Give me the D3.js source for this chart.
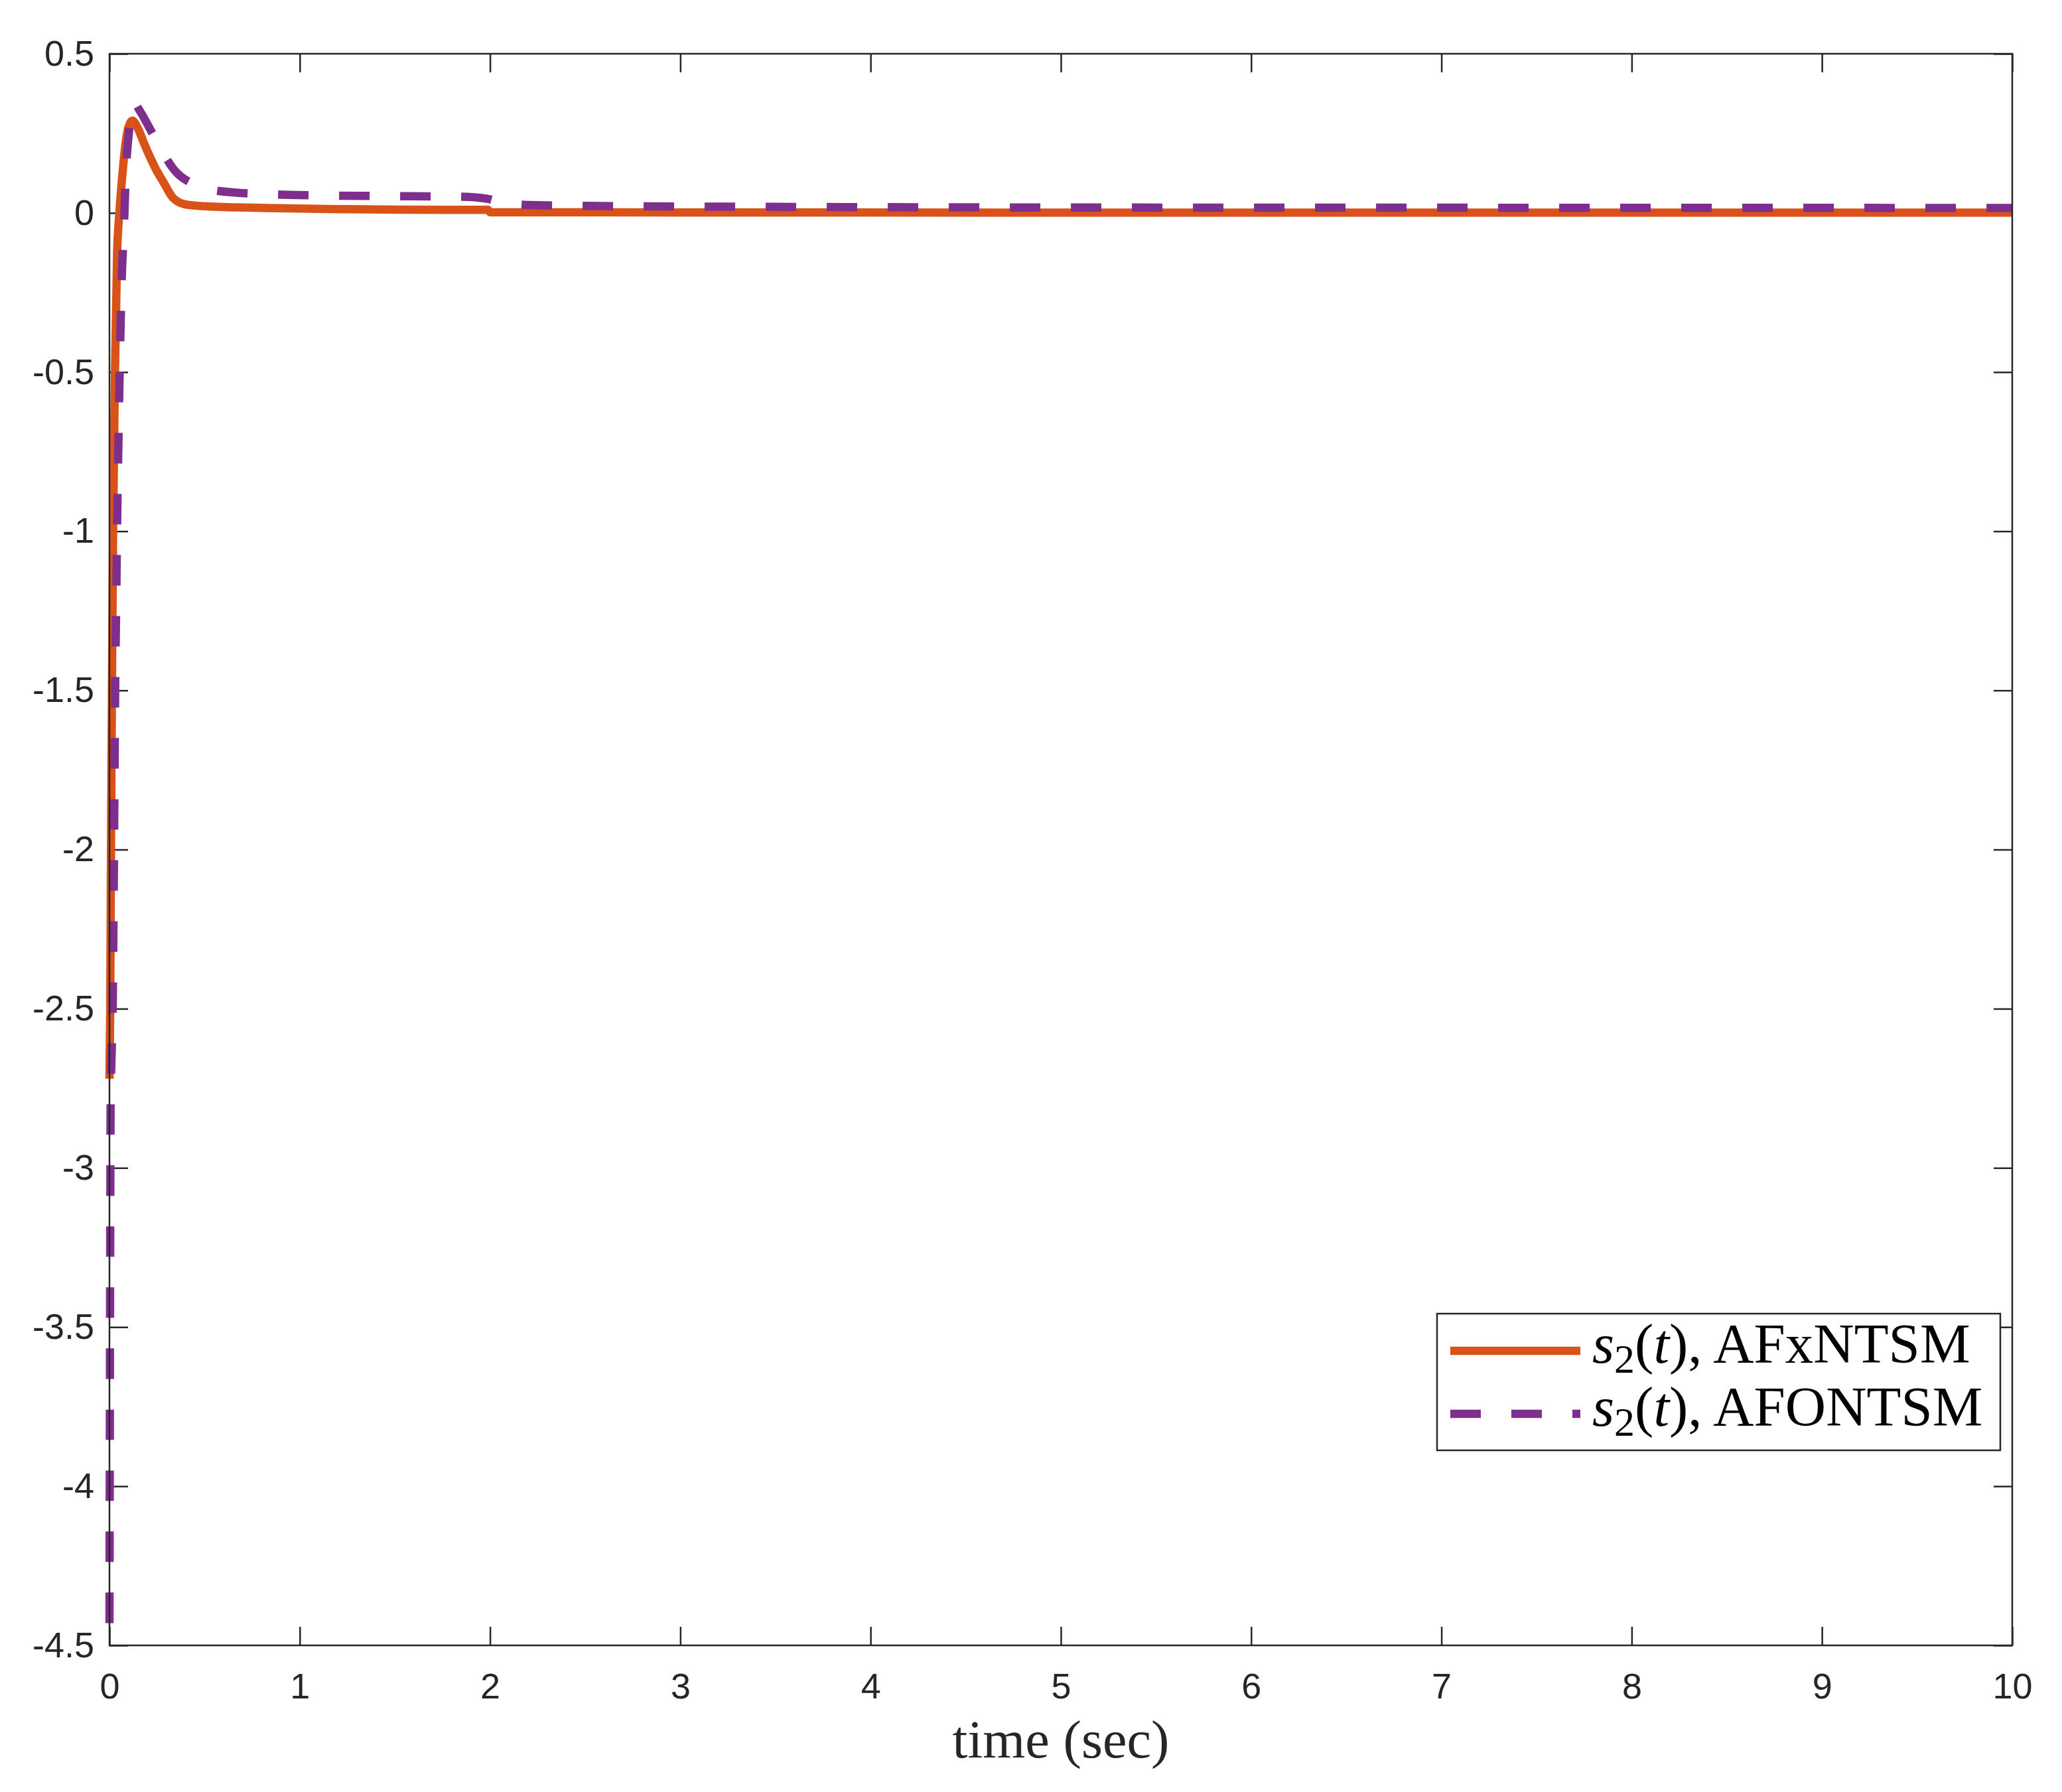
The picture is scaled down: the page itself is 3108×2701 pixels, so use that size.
<!DOCTYPE html>
<html>
<head>
<meta charset="utf-8">
<script src="https://cdn.jsdelivr.net/npm/d3@7"></script>
<style>
    body { margin: 0; background: #fff; }
</style>
</head>
<body>
<svg id="chart"></svg>
<script>
// s2(t) for AFxNTSM (solid orange)
let afxTime = [0, 0.004, 0.008, 0.013, 0.019, 0.029, 0.04, 0.052, 0.066, 0.083, 0.1, 0.12, 0.15, 0.182, 0.24, 0.287, 0.333, 0.36, 0.391, 0.45, 0.53, 0.82, 1.2, 1.52, 1.99, 2.0, 3, 5, 10];
let afxValue = [-2.72, -2.5, -2.0, -1.5, -1.0, -0.5, -0.13, 0.0, 0.107, 0.211, 0.27, 0.29, 0.265, 0.218, 0.142, 0.093, 0.048, 0.035, 0.028, 0.023, 0.020, 0.0156, 0.012, 0.010, 0.0095, 0.002, 0.0015, 0.001, 0.001];
// s2(t) for AFONTSM (dashed purple)
let afoTime = [0, 0.002, 0.004, 0.006, 0.011, 0.017, 0.024, 0.03, 0.036, 0.04, 0.045, 0.05, 0.056, 0.063, 0.075, 0.087, 0.1, 0.112, 0.13, 0.16, 0.223, 0.345, 0.45, 0.571, 0.82, 1.1, 1.43, 1.85, 1.98, 2.05, 2.2, 2.5, 3.5, 5, 8, 10];
let afoValue = [-4.43, -3.8, -3.2, -2.8, -2.65, -2.5, -2.0, -1.5, -1.2, -0.99, -0.8, -0.615, -0.43, -0.236, -0.06, 0.135, 0.24, 0.3, 0.345, 0.32, 0.253, 0.132, 0.088, 0.069, 0.059, 0.055, 0.053, 0.051, 0.045, 0.035, 0.025, 0.022, 0.019, 0.017, 0.016, 0.0155];

let xTicks = [0, 1, 2, 3, 4, 5, 6, 7, 8, 9, 10];
let yTicks = [0.5, 0, -0.5, -1, -1.5, -2, -2.5, -3, -3.5, -4, -4.5];
let seriesNames = ['AFxNTSM', 'AFONTSM'];
let xLabel = 'time (sec)';

let width = 3108;
let height = 2701;
let margin = {top: 81, left: 165, right: 75, bot: 221};
let config = {
    width: width - margin.left - margin.right,
    height: height - margin.top - margin.bot,
    margin: margin
};
let axisColor = '#262626';
let colors = ['#D95319', '#7E2F8E'];
let tickLen = 28;

let svg = d3.select('#chart')
    .attr('width', width)
    .attr('height', height);
svg.append('rect')
    .attr('width', width)
    .attr('height', height)
    .attr('fill', '#fff');

let plot = svg.append('g')
    .attr('transform', `translate(${margin.left},${margin.top})`);

let xScale = d3.scaleLinear()
    .domain([0, 10])
    .range([0, config.width]);
let yScale = d3.scaleLinear()
    .domain([-4.5, 0.5])
    .range([config.height, 0]);

function styleAxis(g) {
    g.select('.domain').remove();
    g.selectAll('.tick line')
        .attr('stroke', axisColor)
        .attr('stroke-width', 2.5);
    g.selectAll('.tick text')
        .attr('fill', axisColor)
        .style('font-family', '"Liberation Sans", Arial, Helvetica, sans-serif')
        .style('font-size', '54px');
}

let fmt = d => String(d);

plot.append('g')
    .attr('transform', `translate(0,${config.height})`)
    .call(d3.axisBottom(xScale).tickValues(xTicks).tickFormat(fmt)
        .tickSizeInner(-tickLen).tickSizeOuter(0).tickPadding(42))
    .call(styleAxis);
plot.append('g')
    .call(d3.axisTop(xScale).tickValues(xTicks).tickFormat('')
        .tickSizeInner(-tickLen).tickSizeOuter(0))
    .call(styleAxis);
plot.append('g')
    .call(d3.axisLeft(yScale).tickValues(yTicks).tickFormat(fmt)
        .tickSizeInner(-tickLen).tickSizeOuter(0).tickPadding(23))
    .call(styleAxis);
plot.append('g')
    .attr('transform', `translate(${config.width},0)`)
    .call(d3.axisRight(yScale).tickValues(yTicks).tickFormat('')
        .tickSizeInner(-tickLen).tickSizeOuter(0))
    .call(styleAxis);

let series = [
    {name: seriesNames[0], data: afxTime.map((t, i) => [t, afxValue[i]]), color: colors[0], dash: null},
    {name: seriesNames[1], data: afoTime.map((t, i) => [t, afoValue[i]]), color: colors[1], dash: '46,46'}
];

let line = d3.line()
    .x(d => xScale(d[0]))
    .y(d => yScale(d[1]))
    .curve(d3.curveMonotoneX);

let lineChart = plot.append('g');
for (let s of series) {
    lineChart.append('path')
        .datum(s.data)
        .attr('d', line)
        .attr('fill', 'none')
        .attr('stroke', s.color)
        .attr('stroke-width', 12.5)
        .attr('stroke-linejoin', 'round')
        .attr('stroke-dasharray', s.dash);
}

// plot box
plot.append('rect')
    .attr('width', config.width)
    .attr('height', config.height)
    .attr('fill', 'none')
    .attr('stroke', axisColor)
    .attr('stroke-width', 2.5);

// x label
svg.append('text')
    .attr('x', margin.left + config.width / 2)
    .attr('y', 2649)
    .attr('text-anchor', 'middle')
    .attr('fill', axisColor)
    .attr('textLength', 327)
    .attr('lengthAdjust', 'spacingAndGlyphs')
    .style('font-family', '"Liberation Serif", "Times New Roman", serif')
    .style('font-size', '80px')
    .text(xLabel);

// legend
let legend = svg.append('g')
    .attr('transform', 'translate(2166,1980)');
legend.append('rect')
    .attr('width', 849)
    .attr('height', 206)
    .attr('fill', '#fff')
    .attr('stroke', axisColor)
    .attr('stroke-width', 2.5);
series.forEach((s, i) => {
    let rowY = 56 + i * 95;
    legend.append('line')
        .attr('x1', 20)
        .attr('x2', 216)
        .attr('y1', rowY)
        .attr('y2', rowY)
        .attr('stroke', s.color)
        .attr('stroke-width', 12.5)
        .attr('stroke-dasharray', s.dash);
    let txt = legend.append('text')
        .attr('x', 234)
        .attr('y', rowY + 18)
        .attr('fill', '#000')
        .style('font-family', '"Liberation Serif", "Times New Roman", serif')
        .style('font-size', '85px');
    txt.append('tspan').style('font-style', 'italic').text('s');
    txt.append('tspan').attr('dy', 15).style('font-size', '62px').text('2');
    txt.append('tspan').attr('dy', -15).text('(');
    txt.append('tspan').style('font-style', 'italic').text('t');
    txt.append('tspan').text(`), ${s.name}`);
});
</script>
</body>
</html>
